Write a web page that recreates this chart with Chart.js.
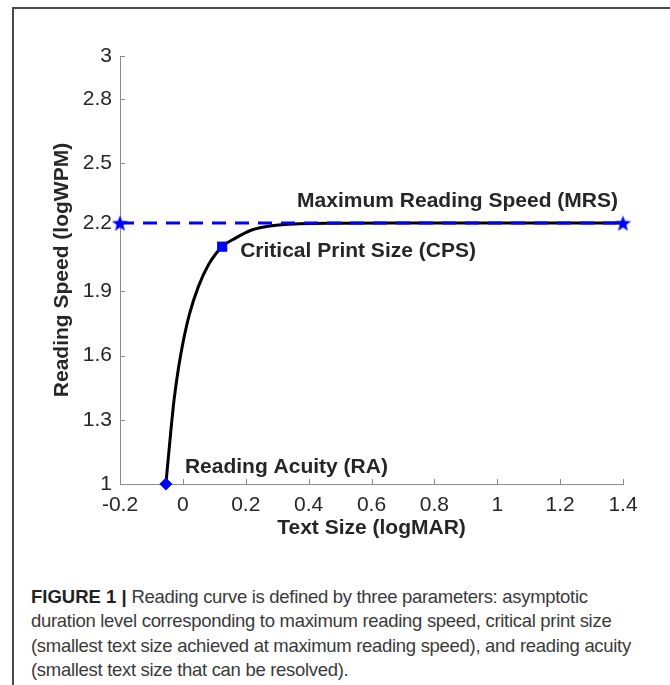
<!DOCTYPE html>
<html>
<head>
<meta charset="utf-8">
<script src="https://cdn.jsdelivr.net/npm/chart.js@4/dist/chart.umd.min.js"></script>
<style>
  html, body { margin: 0; padding: 0; background: #fff; }
  body { width: 670px; height: 685px; position: relative; overflow: hidden; }
  #frame { position: absolute; left: 12px; top: 7px; right: -5px; bottom: -5px;
           border-left: 2px solid #4a4a4a; border-top: 2px solid #4a4a4a; }
  #wrap { position: absolute; left: 0; top: 0; width: 670px; height: 560px; }
  #caption { position: absolute; left: 31px; top: 585px; width: 636px;
             font-family: "Liberation Sans", Arial, sans-serif; font-size: 18.5px;
             letter-spacing: -0.3px; line-height: 24.3px; color: #3a3a3a; white-space: nowrap; }
  #caption b { color: #222; letter-spacing: 0; }
</style>
</head>
<body>
<div id="frame"></div>
<div id="wrap"><canvas id="chart" width="670" height="560"></canvas></div>
<div id="caption"><b>FIGURE 1 |</b> Reading curve is defined by three parameters: asymptotic<br>duration level corresponding to maximum reading speed, critical print size<br>(smallest text size achieved at maximum reading speed), and reading acuity<br>(smallest text size that can be resolved).</div>
<script>
// curve (logMAR vs logWPM)
const curveX = [-0.054, -0.039, -0.028, -0.014, 0.002, 0.021, 0.049, 0.081, 0.125, 0.166, 0.219, 0.283, 0.367, 0.5, 0.7, 1.0, 1.4];
const curveY = [1.0, 1.237, 1.393, 1.542, 1.673, 1.794, 1.921, 2.023, 2.109, 2.148, 2.187, 2.207, 2.216, 2.219, 2.22, 2.22, 2.22];

// the three parameters
const mrs = 2.22;
const mrsX = [-0.2, 1.4];
const cps = { x: 0.125, y: 2.109 };
const ra = { x: -0.054, y: 1.0 };

const xTicks = [-0.2, 0, 0.2, 0.4, 0.6, 0.8, 1, 1.2, 1.4];
const yTicks = [1, 1.3, 1.6, 1.9, 2.22, 2.5, 2.8, 3];

const blue = '#0000ff';
const axisGray = '#8c8c8c';
const textDark = '#262626';
const font = '"Liberation Sans", Arial, sans-serif';

// filled 5-point star used as marker
function makeStar(size, color) {
    const c = document.createElement('canvas');
    c.width = size; c.height = size;
    const g = c.getContext('2d');
    const cx = size / 2, cy = size / 2 + 1, R = size / 2, r = R * 0.42;
    g.beginPath();
    for (let i = 0; i < 10; i++) {
        const rad = i % 2 ? r : R;
        const a = -Math.PI / 2 + i * Math.PI / 5;
        g.lineTo(cx + rad * Math.cos(a), cy + rad * Math.sin(a));
    }
    g.closePath();
    g.fillStyle = color;
    g.fill();
    return c;
}
const star = makeStar(17, blue);

// tick marks drawn inside the plot, like the original
const innerTicks = {
    id: 'innerTicks',
    beforeDatasetsDraw(chart) {
        const { ctx, chartArea, scales } = chart;
        ctx.save();
        ctx.strokeStyle = axisGray;
        ctx.lineWidth = 1;
        ctx.beginPath();
        scales.x.ticks.forEach(t => {
            const px = Math.round(scales.x.getPixelForValue(t.value)) + 0.5;
            ctx.moveTo(px, chartArea.bottom);
            ctx.lineTo(px, chartArea.bottom - 5);
        });
        scales.y.ticks.forEach(t => {
            const py = Math.round(scales.y.getPixelForValue(t.value)) + 0.5;
            ctx.moveTo(chartArea.left, py);
            ctx.lineTo(chartArea.left + 5, py);
        });
        ctx.stroke();
        ctx.restore();
    }
};

// parameter labels, anchored to their points
const paramLabels = {
    id: 'paramLabels',
    afterDatasetsDraw(chart) {
        const { ctx, scales: { x, y } } = chart;
        ctx.save();
        ctx.font = 'bold 21px ' + font;
        ctx.fillStyle = textDark;
        ctx.textBaseline = 'alphabetic';

        ctx.textAlign = 'right';
        ctx.fillText('Maximum Reading Speed (MRS)', x.getPixelForValue(mrsX[1]) - 5, y.getPixelForValue(mrs) - 16);

        ctx.textAlign = 'left';
        ctx.fillText('Critical Print Size (CPS)', x.getPixelForValue(cps.x) + 18, y.getPixelForValue(cps.y) + 10);
        ctx.fillText('Reading Acuity (RA)', x.getPixelForValue(ra.x) + 19, y.getPixelForValue(ra.y) - 11);
        ctx.restore();
    }
};

new Chart(document.getElementById('chart'), {
    type: 'scatter',
    data: {
        datasets: [
            {
                // markers on top
                data: [{ x: mrsX[0], y: mrs }, { x: mrsX[1], y: mrs }],
                pointStyle: star,
                showLine: false,
                clip: false
            },
            {
                data: [cps],
                pointStyle: 'rect',
                pointRadius: 7.2,
                backgroundColor: blue,
                borderWidth: 0,
                clip: false
            },
            {
                data: [ra],
                pointStyle: 'rectRot',
                pointRadius: 6.5,
                backgroundColor: blue,
                borderWidth: 0,
                clip: false
            },
            {
                // dashed MRS line
                data: mrsX.map(v => ({ x: v, y: mrs })),
                showLine: true,
                borderColor: blue,
                borderWidth: 3,
                borderDash: [14, 9],
                pointRadius: 0,
                clip: false
            },
            {
                // reading curve
                data: curveX.map((v, i) => ({ x: v, y: curveY[i] })),
                showLine: true,
                borderColor: '#000',
                borderWidth: 3,
                cubicInterpolationMode: 'monotone',
                pointRadius: 0,
                clip: false
            }
        ]
    },
    options: {
        responsive: false,
        animation: false,
        events: [],
        layout: { padding: { top: 56, right: 47, left: 0, bottom: 0 } },
        plugins: { legend: { display: false }, tooltip: { enabled: false } },
        scales: {
            x: {
                type: 'linear',
                min: -0.2,
                max: 1.4,
                afterBuildTicks: s => { s.ticks = xTicks.map(v => ({ value: v })); },
                afterFit: s => { s.height = 76; },
                ticks: {
                    padding: 9,
                    color: textDark,
                    font: { family: font, size: 21 },
                    callback: v => String(Number(v.toFixed(1)))
                },
                grid: { drawOnChartArea: false, drawTicks: false },
                border: { color: axisGray, width: 1 },
                title: {
                    display: true,
                    text: 'Text Size (logMAR)',
                    color: textDark,
                    font: { family: font, size: 21, weight: 'bold' },
                    padding: { top: 0, bottom: 19 }
                }
            },
            y: {
                type: 'linear',
                min: 1,
                max: 3,
                afterBuildTicks: s => { s.ticks = yTicks.map(v => ({ value: v })); },
                afterFit: s => { s.width = 120; },
                ticks: {
                    padding: 8,
                    color: textDark,
                    font: { family: font, size: 21 },
                    callback: v => String(Number(v.toFixed(1)))
                },
                grid: { drawOnChartArea: false, drawTicks: false },
                border: { color: axisGray, width: 1 },
                title: {
                    display: true,
                    text: 'Reading Speed (logWPM)',
                    color: textDark,
                    font: { family: font, size: 21, weight: 'bold' },
                    padding: { top: 50, bottom: 0 }
                }
            }
        }
    },
    plugins: [innerTicks, paramLabels]
});
</script>
</body>
</html>
